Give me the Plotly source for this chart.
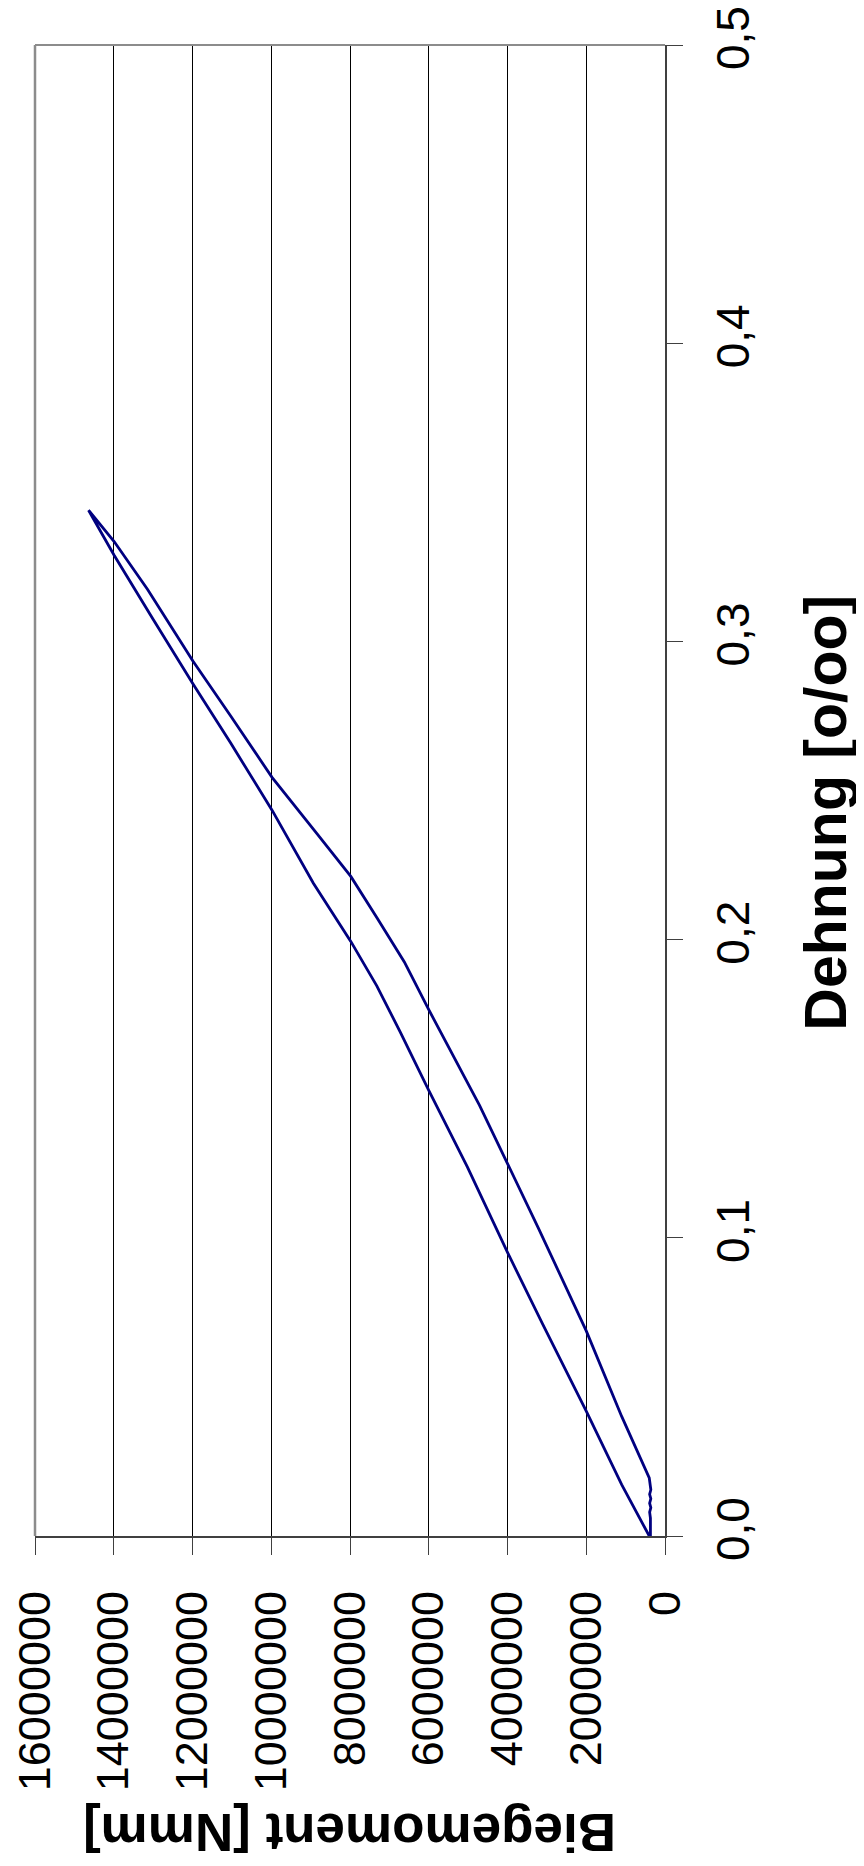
import plotly.graph_objects as go

# Dehnung [o/oo] and Biegemoment [Nmm]
loading_strain = [0.000, 0.0172, 0.0419, 0.0711, 0.0951, 0.1238, 0.1494, 0.1689, 0.1845,
                  0.1994, 0.2189, 0.2434, 0.2659, 0.2858, 0.3083, 0.3289, 0.3440]
loading_moment = [400000, 1100000, 2000000, 3110000, 4000000, 5020000, 6000000, 6720000, 7320000,
                  7980000, 8930000, 9980000, 11030000, 11990000, 13040000, 13990000, 14640000]

unloading_strain = [0.3335, 0.3174, 0.3048, 0.2934, 0.2750, 0.2544, 0.2354, 0.2212, 0.2074,
                    0.1925, 0.1765, 0.1570, 0.1444, 0.1249, 0.1031, 0.0688, 0.0401, 0.0195,
                    0.0172, 0.0155, 0.0140, 0.0125, 0.0110, 0.0095, 0.0080, 0.0060, 0.0000]
unloading_moment = [13990000, 13140000, 12540000, 11990000, 11030000, 9980000, 8830000, 7980000, 7320000,
                    6620000, 6000000, 5220000, 4710000, 4000000, 3210000, 2000000, 1100000, 400000,
                    370000, 360000, 390000, 360000, 390000, 360000, 390000, 370000, 370000]

moment_ticks = [0, 2000000, 4000000, 6000000, 8000000, 10000000, 12000000, 14000000, 16000000]
moment_labels = ["0", "2000000", "4000000", "6000000", "8000000", "10000000", "12000000", "14000000", "16000000"]
strain_ticks = [0.0, 0.1, 0.2, 0.3, 0.4, 0.5]
strain_labels = ["0,0", "0,1", "0,2", "0,3", "0,4", "0,5"]

x_title = "Biegemoment [Nmm]"
y_title = "Dehnung [o/oo]"

FONT = "Liberation Sans, Arial, sans-serif"

fig = go.Figure()
fig.add_trace(go.Scatter(
    x=loading_moment + unloading_moment,
    y=loading_strain + unloading_strain,
    mode="lines",
    line=dict(color="#000080", width=2.8),
    showlegend=False,
    hoverinfo="skip",
))

# the page body adds an 8 px margin, so the figure is a bit smaller and offset
fig.update_layout(
    width=856, height=1858,
    margin=dict(l=27, r=199, t=37, b=330, autoexpand=False),
    paper_bgcolor="white", plot_bgcolor="white",
    showlegend=False,
    xaxis=dict(
        range=[16000000, 0],
        automargin=False,
        tickvals=moment_ticks, ticktext=moment_labels,
        tickangle=-90,
        tickfont=dict(family=FONT, size=45, color="black"),
        showgrid=True, gridcolor="black", gridwidth=1,
        zeroline=False,
        showline=True, linecolor="#404040", linewidth=2,
        ticks="outside", ticklen=17, tickcolor="#404040", tickwidth=1,
        ticklabelstandoff=18,
        ticklabeloverflow="allow",
    ),
    yaxis=dict(
        range=[0, 0.5],
        automargin=False,
        side="right",
        tickvals=strain_ticks, ticktext=strain_labels,
        tickangle=-90,
        tickfont=dict(family=FONT, size=46, color="black"),
        showgrid=False, zeroline=False,
        showline=True, linecolor="#404040", linewidth=1.5,
        ticks="outside", ticklen=16, tickcolor="#404040", tickwidth=1,
        ticklabelstandoff=11,
        ticklabeloverflow="allow",
    ),
    shapes=[
        dict(type="line", xref="paper", yref="paper", x0=0, x1=0, y0=0, y1=1,
             line=dict(color="#8c8c8c", width=2.5), layer="above"),
        dict(type="line", xref="paper", yref="paper", x0=0, x1=1, y0=1, y1=1,
             line=dict(color="#8c8c8c", width=2), layer="above"),
    ],
    annotations=[
        dict(text="<b>" + x_title + "</b>", xref="paper", yref="paper",
             x=0.5, y=-0.1985, xanchor="center", yanchor="middle",
             textangle=180, showarrow=False,
             font=dict(family=FONT, size=53, color="black")),
        dict(text="<b>" + y_title + "</b>", xref="paper", yref="paper",
             x=1.2553, y=0.485, xanchor="center", yanchor="middle",
             textangle=-90, showarrow=False,
             font=dict(family=FONT, size=59, color="black")),
    ],
)

fig.write_html("out.html")
